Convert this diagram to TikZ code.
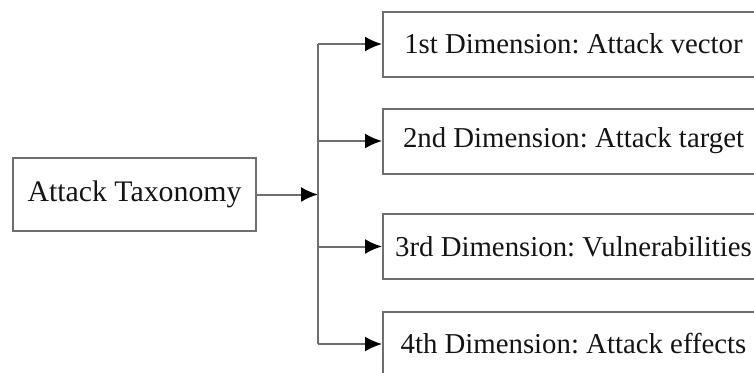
\documentclass[tikz,border=0pt]{standalone}
\usepackage{fontspec}
\setmainfont{Liberation Serif}
\usetikzlibrary{arrows.meta}
\definecolor{linegray}{RGB}{110,110,110}
\definecolor{inkgray}{RGB}{20,20,20}
\tikzset{
  dimbox/.style={draw=linegray, line width=1pt, text=inkgray, minimum width=190.5pt, minimum height=32.5pt, inner sep=0pt, font=\fontsize{14.4}{17}\selectfont\frenchspacing},
  rootbox/.style={dimbox, minimum width=121.5pt, minimum height=36.5pt, font=\fontsize{14.9}{17}\selectfont},
  link/.style={draw=linegray, line width=1pt},
  arr/.style={link, -{Latex[length=8.5pt,width=7.5pt,color=black]}}
}
\begin{document}
\begin{tikzpicture}[x=0.5pt,y=-0.5pt]
\useasboundingbox (0,0) rectangle (754,372);
\clip (0,0) rectangle (754,372);
\node[rootbox] (root) at (134.5,194.5) {Attack Taxonomy};
\node[dimbox] (d1) at (573.5,44) {1st Dimension: Attack vector};
\node[dimbox] (d2) at (573.5,141) {2nd Dimension: Attack target};
\node[dimbox] (d3) at (573.5,246.5) {3rd Dimension: Vulnerabilities};
\node[dimbox] (d4) at (573.5,344) {4th Dimension: Attack effects};
\coordinate (split) at (318,194.5);
% trunk and branches
\draw[arr] (root.east) -- (split);
\draw[link] (d1.west -| split) -- (d4.west -| split);
\foreach \i in {1,...,4}
  \draw[arr] (d\i.west -| split) -- (d\i.west);
\end{tikzpicture}
\end{document}
